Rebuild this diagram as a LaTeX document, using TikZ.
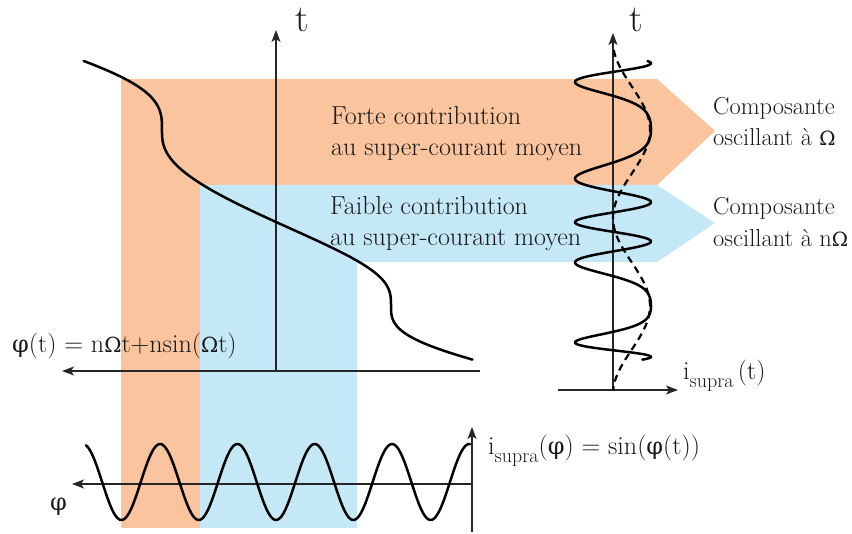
\documentclass[tikz,border=0pt]{standalone}
\usepackage{fontspec}
\newfontfamily\grk{DejaVu Serif}[Scale=0.8]
\newfontfamily\grkphi{DejaVu Serif}[Scale=0.92]
\usetikzlibrary{arrows.meta}
\definecolor{bandorange}{HTML}{FAC49E}
\definecolor{bandblue}{HTML}{C5E8F6}
\newcommand{\sub}[1]{\raisebox{-0.28em}{\fontsize{20}{20}\selectfont #1}}
\newcommand{\Om}{{\grk Ω}}
\newcommand{\ph}{{\grkphi φ}}
\begin{document}
\begin{tikzpicture}[x=1pt,y=-1pt,
  declare function={ymap(\u)=ifthenelse(\u<0,306-20*\u,ifthenelse(\u>2*pi,129.44-26*(\u-2*pi),306-28.1*\u+5*sin(\u r)+2.25*(1-cos(\u r))));},
  axis/.style={line width=1.3pt, draw=black!85, -{Stealth[length=12pt,width=9pt,inset=3pt]}},
  curve/.style={line width=2.5pt, line cap=round, line join=round},
  lbl/.style={font=\fontsize{26}{30}\selectfont, anchor=base west, inner sep=0pt, text=black!90},
  rlbl/.style={lbl, font=\fontsize{24.5}{30}\selectfont},
  big/.style={font=\fontsize{38}{40}\selectfont, anchor=base west, inner sep=0pt, text=black!90}]
\useasboundingbox (0,0) rectangle (852,534);
% bands
\fill[bandorange] (121,79) -- (657,79) -- (715,131) -- (657,185) -- (200,185) -- (200,528) -- (121,528) -- cycle;
\fill[bandblue] (200,185) -- (657,185) -- (715,223) -- (657,262) -- (357,262) -- (357,528) -- (200,528) -- cycle;
% texts in bands
\node[lbl] (f1) at (331,125) {Forte contribution};
\node[lbl] (f2) at (331,156) {au super-courant moyen};
\node[lbl] (g1) at (330,215) {Faible contribution};
\node[lbl] (g2) at (330,246) {au super-courant moyen};
\node[rlbl] (c1) at (713,115) {Composante};
\node[rlbl] (c2) at (713,146) {oscillant à \Om};
\node[rlbl] (d1) at (713,215) {Composante};
\node[rlbl] (d2) at (713,247) {oscillant à n\Om};
% left panel axes
\coordinate (ltb) at (276,371); \coordinate (ltt) at (276,30);
\coordinate (lxr) at (480,371); \coordinate (lxl) at (62,371);
\draw[axis] (ltb) -- (ltt);
\draw[axis] (lxr) -- (lxl);
\node[big] (tl) at (295,32) {t};
\node[lbl] (phit) at (12,353) {\ph(t) = n\Om t+nsin(\Om t)};
\draw[curve] plot[domain=-2.68:8.92, samples=300, variable=\u] ({391-36.45*(\u-sin(\u r))},{ymap(\u)});
% right panel
\coordinate (rtb) at (613,390); \coordinate (rtt) at (613,33);
\coordinate (rxl) at (558,390); \coordinate (rxr) at (678,390);
\draw[axis] (rtb) -- (rtt);
\draw[axis] (rxl) -- (rxr);
\node[big] (tr) at (629,32) {t};
\node[lbl] (ist) at (683,380) {i\sub{supra}\,(t)};
\draw[line width=2.2pt, dash pattern=on 7pt off 5pt] plot[domain=50:390, samples=150, variable=\y] ({613+18.5*(1+cos(2.04545*(\y-130)))},{\y});
\draw[curve] plot[domain=-2.68:8.92, samples=700, variable=\u] ({613+38*cos(3*(\u-0.8*sin(\u r)) r)},{ymap(\u)});
% bottom panel
\coordinate (bvb) at (472,532); \coordinate (bvt) at (472,427);
\coordinate (bhr) at (472,484); \coordinate (bhl) at (72,484);
\draw[axis] (bvb) -- (bvt);
\draw[axis] (bhr) -- (bhl);
\node[lbl] (phi) at (50,511) {\ph};
\node[lbl] (isp) at (488,455) {i\sub{supra}(\ph) = sin(\ph(t))};
\draw[curve] plot[domain=86:470, samples=250, variable=\x] ({\x},{482-38*cos(4.65718*(\x-392))});
\end{tikzpicture}
\end{document}
